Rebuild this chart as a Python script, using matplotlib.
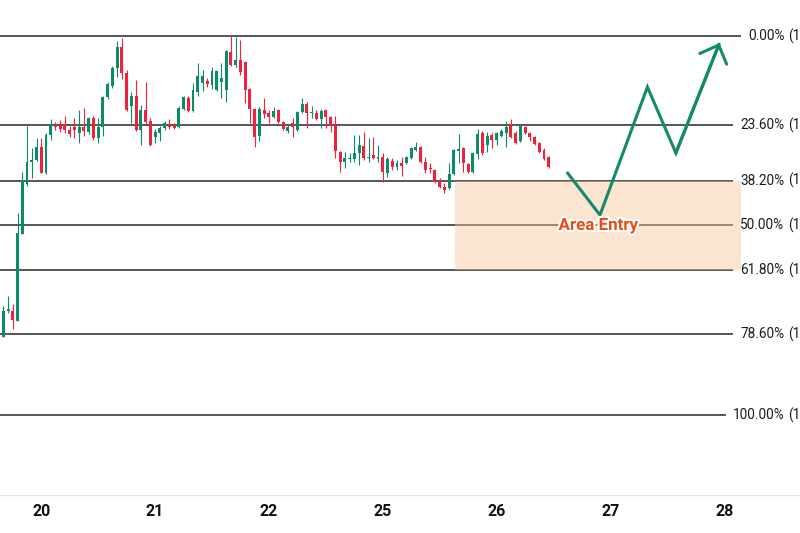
import matplotlib
matplotlib.use("Agg")
import matplotlib.pyplot as plt
import matplotlib.patheffects as pe
from matplotlib.patches import Rectangle
from matplotlib.transforms import blended_transform_factory
import numpy as np

# ---------------- data ----------------
opens = [1.0699, 1.0725, 1.0725, 1.0715, 1.0802, 1.0852, 1.0874, 1.0876, 1.0889, 1.0863,
         1.0901, 1.0911, 1.0910, 1.0912, 1.0906, 1.0909, 1.0903, 1.0909, 1.0904, 1.0918,
         1.0898, 1.0909, 1.0939, 1.0950, 1.0968, 1.0989, 1.0963, 1.0930, 1.0940, 1.0906,
         1.0926, 1.0915, 1.0899, 1.0903, 1.0908, 1.0912, 1.0910, 1.0909, 1.0927, 1.0938,
         1.0925, 1.0944, 1.0953, 1.0955, 1.0951, 1.0946, 1.0954, 1.0946, 1.0984, 1.0971,
         1.0976, 1.0974, 1.0947, 1.0927, 1.0900, 1.0926, 1.0923, 1.0919, 1.0926, 1.0914,
         1.0905, 1.0913, 1.0906, 1.0924, 1.0932, 1.0923, 1.0923, 1.0917, 1.0926, 1.0919,
         1.0911, 1.0884, 1.0874, 1.0877, 1.0877, 1.0883, 1.0890, 1.0878, 1.0881, 1.0877,
         1.0879, 1.0863, 1.0875, 1.0869, 1.0873, 1.0873, 1.0878, 1.0886, 1.0889, 1.0874,
         1.0868, 1.0866, 1.0855, 1.0849, 1.0848, 1.0862, 1.0885, 1.0888, 1.0872, 1.0864,
         1.0882, 1.0903, 1.0891, 1.0901, 1.0896, 1.0900, 1.0903, 1.0912, 1.0903, 1.0895,
         1.0909, 1.0903, 1.0899, 1.0893, 1.0886, 1.0879]
highs = [1.0730, 1.0740, 1.0732, 1.0823, 1.0864, 1.0910, 1.0888, 1.0898, 1.0898, 1.0903,
         1.0917, 1.0914, 1.0916, 1.0920, 1.0910, 1.0918, 1.0926, 1.0928, 1.0919, 1.0920,
         1.0918, 1.0940, 1.0954, 1.0970, 1.0995, 1.0998, 1.0966, 1.0944, 1.0956, 1.0931,
         1.0954, 1.0918, 1.0907, 1.0910, 1.0915, 1.0917, 1.0913, 1.0930, 1.0940, 1.0940,
         1.0953, 1.0973, 1.0966, 1.0958, 1.0969, 1.0966, 1.0973, 1.0986, 1.1000, 1.0999,
         1.0996, 1.0975, 1.0948, 1.0928, 1.0929, 1.0938, 1.0926, 1.0929, 1.0927, 1.0915,
         1.0911, 1.0918, 1.0925, 1.0938, 1.0934, 1.0930, 1.0926, 1.0927, 1.0926, 1.0920,
         1.0920, 1.0885, 1.0884, 1.0883, 1.0901, 1.0901, 1.0904, 1.0898, 1.0899, 1.0891,
         1.0883, 1.0879, 1.0878, 1.0876, 1.0879, 1.0880, 1.0889, 1.0894, 1.0890, 1.0879,
         1.0873, 1.0867, 1.0858, 1.0853, 1.0873, 1.0887, 1.0902, 1.0889, 1.0873, 1.0884,
         1.0907, 1.0905, 1.0904, 1.0903, 1.0904, 1.0907, 1.0915, 1.0917, 1.0905, 1.0911,
         1.0910, 1.0904, 1.0900, 1.0894, 1.0888, 1.0880]
lows = [1.0699, 1.0723, 1.0707, 1.0715, 1.0802, 1.0850, 1.0858, 1.0875, 1.0863, 1.0862,
        1.0896, 1.0906, 1.0904, 1.0903, 1.0899, 1.0898, 1.0893, 1.0900, 1.0902, 1.0896,
        1.0893, 1.0900, 1.0937, 1.0948, 1.0959, 1.0957, 1.0925, 1.0913, 1.0905, 1.0891,
        1.0912, 1.0890, 1.0893, 1.0895, 1.0906, 1.0907, 1.0907, 1.0908, 1.0926, 1.0924,
        1.0924, 1.0940, 1.0945, 1.0949, 1.0947, 1.0945, 1.0938, 1.0934, 1.0970, 1.0969,
        1.0961, 1.0933, 1.0913, 1.0889, 1.0895, 1.0918, 1.0913, 1.0918, 1.0913, 1.0906,
        1.0903, 1.0899, 1.0905, 1.0923, 1.0908, 1.0918, 1.0916, 1.0908, 1.0908, 1.0904,
        1.0878, 1.0864, 1.0868, 1.0874, 1.0874, 1.0871, 1.0876, 1.0874, 1.0877, 1.0874,
        1.0854, 1.0859, 1.0866, 1.0866, 1.0860, 1.0872, 1.0877, 1.0885, 1.0873, 1.0863,
        1.0863, 1.0853, 1.0848, 1.0843, 1.0847, 1.0861, 1.0873, 1.0864, 1.0863, 1.0863,
        1.0877, 1.0881, 1.0884, 1.0888, 1.0891, 1.0899, 1.0889, 1.0898, 1.0892, 1.0894,
        1.0902, 1.0895, 1.0891, 1.0883, 1.0876, 1.0868]
closes = [1.0725, 1.0727, 1.0716, 1.0803, 1.0856, 1.0874, 1.0876, 1.0889, 1.0863, 1.0901,
          1.0911, 1.0909, 1.0907, 1.0906, 1.0902, 1.0906, 1.0909, 1.0905, 1.0918, 1.0898,
          1.0909, 1.0939, 1.0952, 1.0968, 1.0989, 1.0963, 1.0926, 1.0940, 1.0906, 1.0926,
          1.0914, 1.0891, 1.0904, 1.0908, 1.0913, 1.0909, 1.0908, 1.0928, 1.0939, 1.0925,
          1.0946, 1.0960, 1.0960, 1.0952, 1.0965, 1.0965, 1.0958, 1.0985, 1.0971, 1.0976,
          1.0964, 1.0946, 1.0927, 1.0899, 1.0927, 1.0922, 1.0919, 1.0925, 1.0914, 1.0907,
          1.0909, 1.0909, 1.0924, 1.0932, 1.0923, 1.0924, 1.0917, 1.0925, 1.0919, 1.0911,
          1.0885, 1.0874, 1.0878, 1.0878, 1.0883, 1.0891, 1.0878, 1.0879, 1.0878, 1.0879,
          1.0864, 1.0877, 1.0869, 1.0873, 1.0870, 1.0879, 1.0888, 1.0889, 1.0874, 1.0866,
          1.0867, 1.0854, 1.0849, 1.0846, 1.0862, 1.0886, 1.0887, 1.0873, 1.0864, 1.0883,
          1.0902, 1.0883, 1.0900, 1.0896, 1.0903, 1.0905, 1.0909, 1.0899, 1.0893, 1.0910,
          1.0903, 1.0899, 1.0892, 1.0884, 1.0877, 1.0869]

day_tick_index = [8, 32, 56, 80, 104, 128, 152]
day_labels = ["20", "21", "22", "25", "26", "27", "28"]

fib_high = 1.1000
fib_low = 1.0621
fib_ratios = [0.0, 0.236, 0.382, 0.5, 0.618, 0.786, 1.0]

zone_start_index = 95.2
zone_end_index = 155.5
zone_ratios = (0.382, 0.618)

path_index = [118.8, 125.8, 135.8, 141.8, 151.0]
path_price = [1.0864, 1.0821, 1.0949, 1.0883, 1.0993]

zone_label = "Area Entry"
zone_label_pos = (125.4, 1.0806)

# ---------------- style ----------------
GREEN = "#0a8c6a"
RED = "#f0213a"
PATH_GREEN = "#14896b"
LINE_COL = "#3a3a3a"

W, H = 800, 533
fig = plt.figure(figsize=(W / 100, H / 100), dpi=100)
axis_y_px = 494.5
ax = fig.add_axes([0, (H - axis_y_px) / H, 1, axis_y_px / H])
ax.set_facecolor("white")

x = np.arange(len(opens))
o = np.array(opens); c = np.array(closes); hi = np.array(highs); lo = np.array(lows)
up = c >= o
cols = np.where(up, GREEN, RED)

ax.vlines(x, lo, hi, colors=cols, linewidth=0.8, zorder=3)
ax.bar(x, np.maximum(np.abs(c - o), 0.00012), bottom=np.minimum(o, c), width=0.62,
       color=cols, linewidth=0, zorder=4)

ax.set_xlim(-0.696, 167.97)
ax.set_ylim(1.1036 - axis_y_px / 10000, 1.1036)

# fib labels
trans = blended_transform_factory(ax.transAxes, ax.transData)
fib_prices = [fib_high - r * (fib_high - fib_low) for r in fib_ratios]
prefix_texts = []
for r, p in zip(fib_ratios, fib_prices):
    t = ax.text(784.5 / W, p, f"{r * 100:.2f}%", transform=trans, ha="right", va="center",
                fontsize=9.8, family="Roboto", color="#1c1c1c", clip_on=False)
    ax.text(788.0 / W, p, f"({p:.5f})", transform=trans, ha="left", va="center",
            fontsize=9.8, family="Roboto", color="#1c1c1c", clip_on=False)
    prefix_texts.append(t)

fig.canvas.draw()
renderer = fig.canvas.get_renderer()
inv = ax.transData.inverted()
for t, p in zip(prefix_texts, fib_prices):
    bb = t.get_window_extent(renderer)
    x_end = inv.transform((bb.x0 - 7, 0))[0]
    ax.hlines(p, -0.696, x_end, colors=LINE_COL, linewidth=1.2, zorder=2)

# zone
z_top = fib_high - zone_ratios[0] * (fib_high - fib_low)
z_bot = fib_high - zone_ratios[1] * (fib_high - fib_low)
ax.add_patch(Rectangle((zone_start_index, z_bot), zone_end_index - zone_start_index, z_top - z_bot,
                       facecolor="#f8c598", alpha=0.45, linewidth=0, zorder=2.5))

# projected path
ax.plot(path_index, path_price, color=PATH_GREEN, linewidth=2.2, solid_joinstyle="miter",
        solid_capstyle="butt", zorder=5)
ax.annotate("", xy=(path_index[-1], path_price[-1]), xytext=(path_index[-2], path_price[-2]),
            arrowprops=dict(arrowstyle="->,head_length=1.07,head_width=1.04", color=PATH_GREEN,
                            lw=2.2, shrinkA=0, shrinkB=0, mutation_scale=10), zorder=5)

ax.text(zone_label_pos[0], zone_label_pos[1], zone_label, ha="center", va="baseline",
        color="#e64e17", fontsize=12.2, fontweight="bold", family="Roboto", zorder=6,
        path_effects=[pe.withStroke(linewidth=3, foreground="white")])

# axes styling
for s in ["top", "right", "left"]:
    ax.spines[s].set_visible(False)
ax.spines["bottom"].set_color("#e2e3ea")
ax.spines["bottom"].set_linewidth(1.0)
ax.set_yticks([])
ax.set_xticks(day_tick_index)
ax.set_xticklabels(day_labels, fontsize=11.5, fontweight="bold", family="Roboto", color="#111111")
ax.tick_params(axis="x", length=0, pad=7)

fig.savefig("out.png", dpi=100, facecolor="white")
